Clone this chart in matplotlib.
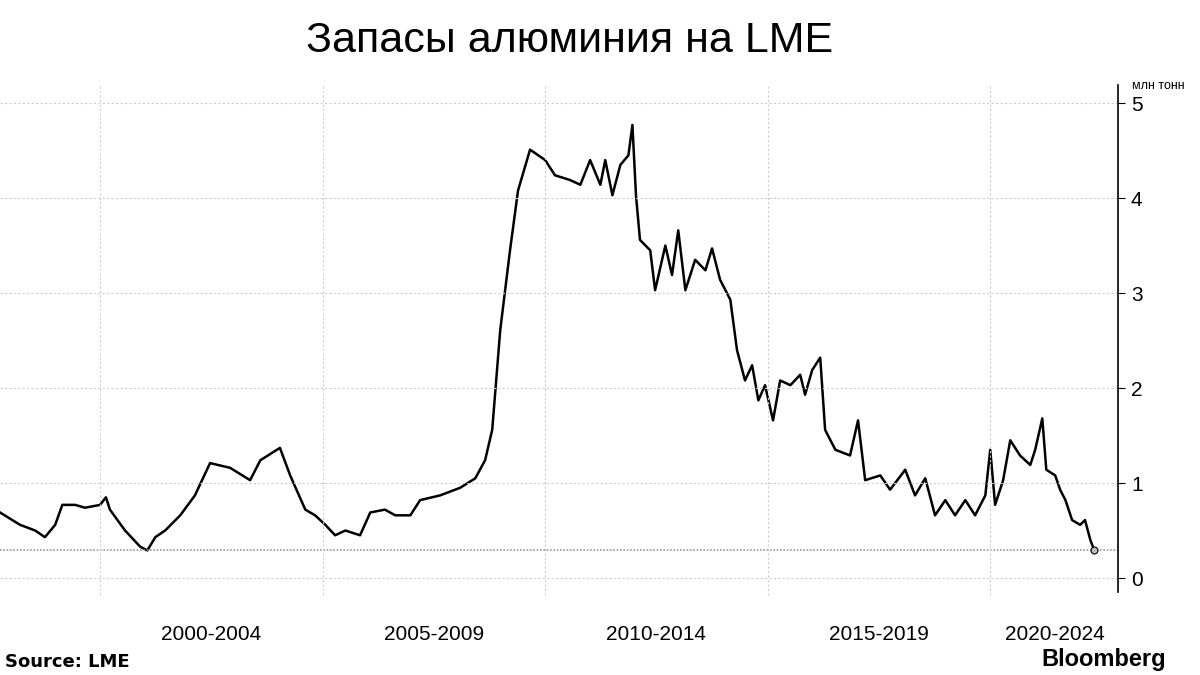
import matplotlib.pyplot as plt

# LME aluminium stocks, million tonnes
years = [1997.75, 1998.20, 1998.54, 1998.76, 1998.99, 1999.15, 1999.44, 1999.66, 2000.0, 2000.13,
         2000.22, 2000.56, 2000.90, 2001.06, 2001.24, 2001.46, 2001.80, 2002.13, 2002.47, 2002.92,
         2003.37, 2003.60, 2004.04, 2004.27, 2004.61, 2004.83, 2005.06, 2005.28, 2005.51, 2005.84,
         2006.07, 2006.40, 2006.63, 2006.97, 2007.19, 2007.64, 2008.09, 2008.43, 2008.65, 2008.81,
         2008.99, 2009.21, 2009.39, 2009.66, 2010.0, 2010.22, 2010.56, 2010.79, 2011.01, 2011.24,
         2011.35, 2011.51, 2011.69, 2011.87, 2011.96, 2012.04, 2012.13, 2012.36, 2012.47, 2012.70,
         2012.85, 2012.99, 2013.15, 2013.37, 2013.60, 2013.75, 2013.93, 2014.16, 2014.31, 2014.49,
         2014.65, 2014.79, 2014.94, 2015.12, 2015.28, 2015.51, 2015.73, 2015.84, 2016.00, 2016.18,
         2016.29, 2016.52, 2016.85, 2017.03, 2017.19, 2017.53, 2017.75, 2018.09, 2018.31, 2018.54,
         2018.76, 2018.99, 2019.21, 2019.44, 2019.66, 2019.89, 2020.0, 2020.11, 2020.29, 2020.45,
         2020.67, 2020.90, 2021.01, 2021.17, 2021.26, 2021.46, 2021.57, 2021.69, 2021.84, 2022.02,
         2022.13, 2022.25, 2022.34]
stocks = [0.69, 0.56, 0.50, 0.43, 0.56, 0.77, 0.77, 0.74, 0.77, 0.85,
          0.72, 0.50, 0.33, 0.29, 0.43, 0.50, 0.66, 0.87, 1.21, 1.16,
          1.03, 1.24, 1.37, 1.08, 0.72, 0.66, 0.56, 0.45, 0.50, 0.45,
          0.69, 0.72, 0.66, 0.66, 0.82, 0.87, 0.95, 1.05, 1.24, 1.56,
          2.61, 3.45, 4.08, 4.51, 4.40, 4.24, 4.19, 4.14, 4.40, 4.14,
          4.40, 4.03, 4.35, 4.45, 4.77, 4.03, 3.56, 3.45, 3.03, 3.50,
          3.19, 3.66, 3.03, 3.35, 3.24, 3.47, 3.14, 2.93, 2.40, 2.08,
          2.24, 1.87, 2.03, 1.66, 2.08, 2.03, 2.14, 1.93, 2.19, 2.32,
          1.56, 1.35, 1.29, 1.66, 1.03, 1.08, 0.93, 1.14, 0.87, 1.05,
          0.66, 0.82, 0.66, 0.82, 0.66, 0.87, 1.35, 0.77, 1.03, 1.45,
          1.29, 1.19, 1.35, 1.68, 1.14, 1.08, 0.93, 0.82, 0.61, 0.56,
          0.61, 0.40, 0.29]
period_labels = ["2000-2004", "2005-2009", "2010-2014", "2015-2019", "2020-2024"]
period_starts = [2000, 2005, 2010, 2015, 2020]
label_pos = [2002.5, 2007.5, 2012.5, 2017.5, 2021.45]

plt.rcParams['font.family'] = ['Liberation Sans', 'DejaVu Sans']
fig = plt.figure(figsize=(12, 6.75), dpi=100)
ax = fig.add_axes([0.0, 0.123, 0.932, 0.751])

ax.plot(years, stocks, color="black", lw=1.8)
ax.axhline(stocks[-1], color="#999999", ls=(0, (1, 1)), lw=1.2)
ax.plot(years[-1], stocks[-1], "o", ms=5, mfc="#bbbbbb", mec="black", mew=0.8)

ax.set_xlim(1997.75, 2022.88)
ax.set_ylim(-0.147, 5.19)
for x in period_starts:
    ax.axvline(x, color="#cccccc", ls=(0, (2, 2)), lw=0.8, ymin=-0.005, clip_on=False)
for y in range(6):
    ax.axhline(y, color="#cccccc", ls=(0, (2, 2)), lw=0.8)

ax.set_xticks([])
for p, lab in zip(label_pos, period_labels):
    ax.text(p, -0.065, lab, transform=ax.get_xaxis_transform(), ha="center", va="top", fontsize=15)

ax.yaxis.tick_right()
ax.set_yticks(range(6))
ax.tick_params(axis="y", labelsize=15, length=5, direction="out", pad=4)
for side in ["left", "top", "bottom"]:
    ax.spines[side].set_visible(False)
ax.spines["right"].set_linewidth(1.2)

fig.text(0.475, 0.94, "Запасы алюминия на LME", ha="center", va="center", fontsize=31)
fig.text(0.965, 0.872, "млн тонн", ha="center", va="center", fontsize=9)
fig.text(0.004, 0.006, "Source: LME", ha="left", va="bottom", fontsize=13, fontweight="bold", family="DejaVu Sans")
fig.text(0.972, 0.006, "Bloomberg", ha="right", va="bottom", fontsize=17, fontweight="bold")

fig.savefig("out.png", dpi=100)
